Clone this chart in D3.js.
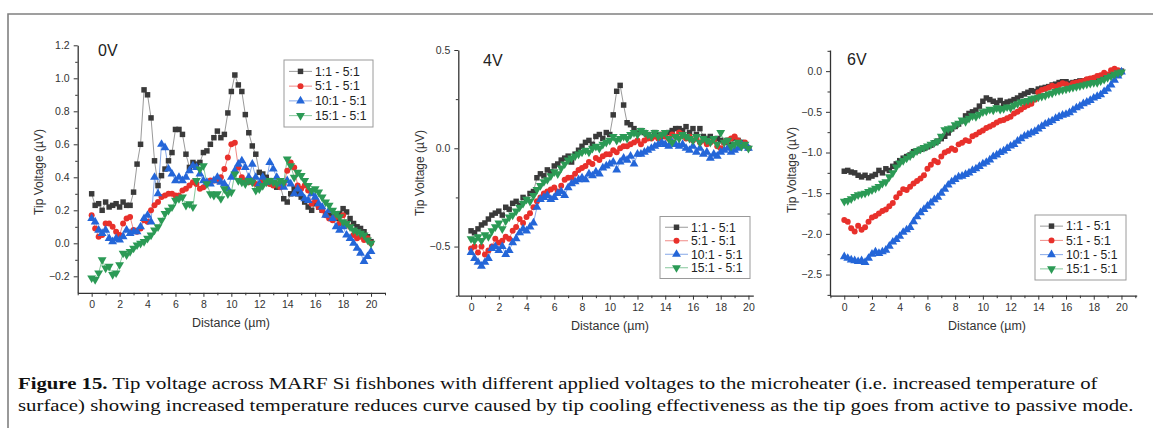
<!DOCTYPE html>
<html><head><meta charset="utf-8">
<script src="https://cdn.jsdelivr.net/npm/d3@7"></script>
<style>body{margin:0;background:#fff}svg{display:block}</style>
</head><body>
<svg id="c" width="1153" height="428"></svg>
<script>
// ---------- DATA ----------
const distance = [0,0.25,0.5,0.75,1,1.25,1.5,1.75,2,2.25,2.5,2.75,3,3.25,3.5,3.75,4,4.25,4.5,4.75,5,5.25,5.5,5.75,6,6.25,6.5,6.75,7,7.25,7.5,7.75,8,8.25,8.5,8.75,9,9.25,9.5,9.75,10,10.25,10.5,10.75,11,11.25,11.5,11.75,12,12.25,12.5,12.75,13,13.25,13.5,13.75,14,14.25,14.5,14.75,15,15.25,15.5,15.75,16,16.25,16.5,16.75,17,17.25,17.5,17.75,18,18.25,18.5,18.75,19,19.25,19.5,19.75,20];
const seriesNames = ["1:1 - 5:1","5:1 - 5:1","10:1 - 5:1","15:1 - 5:1"];
const panelTitles = ["0V","4V","6V"];

// 0V
const v0_1 = [0.30,0.23,0.24,0.20,0.25,0.22,0.23,0.24,0.22,0.25,0.23,0.23,0.31,0.48,0.60,0.93,0.90,0.76,0.50,0.35,0.41,0.45,0.50,0.55,0.69,0.69,0.66,0.54,0.46,0.49,0.48,0.49,0.55,0.56,0.60,0.64,0.68,0.64,0.66,0.79,0.92,1.02,0.96,0.92,0.78,0.67,0.59,0.54,0.43,0.42,0.40,0.38,0.36,0.34,0.35,0.27,0.25,0.30,0.33,0.30,0.28,0.25,0.22,0.20,0.24,0.22,0.20,0.18,0.17,0.16,0.15,0.18,0.21,0.19,0.15,0.12,0.10,0.09,0.07,0.04,0.01];
const v0_5 = [0.17,0.09,0.04,0.05,0.12,0.12,0.10,0.07,0.05,0.12,0.15,0.16,0.08,0.07,0.09,0.14,0.13,0.20,0.23,0.25,0.28,0.29,0.30,0.30,0.29,0.29,0.32,0.33,0.35,0.37,0.36,0.33,0.34,0.37,0.38,0.38,0.38,0.40,0.45,0.52,0.60,0.61,0.46,0.40,0.38,0.37,0.38,0.36,0.35,0.38,0.37,0.36,0.35,0.36,0.34,0.36,0.44,0.49,0.46,0.35,0.33,0.35,0.32,0.24,0.26,0.22,0.20,0.17,0.15,0.14,0.16,0.12,0.17,0.12,0.10,0.05,0.03,0.04,0.02,0.03,0.00];
const v0_10 = [0.15,0.13,0.08,0.06,0.08,0.03,0.01,0.03,0.02,0.04,0.08,0.06,0.07,0.07,0.10,0.15,0.17,0.13,0.40,0.30,0.60,0.58,0.45,0.42,0.38,0.40,0.38,0.40,0.44,0.47,0.46,0.42,0.38,0.37,0.36,0.38,0.40,0.37,0.36,0.33,0.40,0.44,0.48,0.50,0.46,0.40,0.48,0.40,0.36,0.40,0.37,0.49,0.45,0.40,0.36,0.34,0.38,0.36,0.30,0.33,0.30,0.27,0.26,0.30,0.28,0.24,0.22,0.17,0.20,0.15,0.10,0.08,0.10,0.05,0.03,0.00,-0.03,-0.06,-0.11,-0.08,-0.05];
const v0_15 = [-0.21,-0.22,-0.18,-0.10,-0.15,-0.14,-0.19,-0.18,-0.13,-0.06,-0.07,-0.05,-0.03,-0.01,0.00,0.01,0.03,0.05,0.08,0.10,0.14,0.18,0.20,0.22,0.26,0.27,0.28,0.23,0.24,0.22,0.38,0.45,0.47,0.36,0.30,0.29,0.30,0.27,0.33,0.30,0.31,0.42,0.38,0.37,0.36,0.38,0.37,0.32,0.33,0.35,0.37,0.38,0.37,0.36,0.38,0.37,0.51,0.47,0.40,0.43,0.41,0.38,0.35,0.32,0.33,0.31,0.28,0.25,0.23,0.20,0.18,0.16,0.13,0.12,0.10,0.08,0.07,0.06,0.05,0.02,0.00];
// 4V
const v4_1 = [-0.42,-0.43,-0.41,-0.39,-0.38,-0.36,-0.34,-0.33,-0.32,-0.34,-0.30,-0.31,-0.28,-0.27,-0.29,-0.25,-0.26,-0.23,-0.22,-0.15,-0.13,-0.14,-0.11,-0.12,-0.09,-0.08,-0.06,-0.05,-0.04,-0.07,-0.03,-0.01,0.01,0.03,0.04,0.02,0.06,0.07,0.05,0.08,0.07,0.17,0.29,0.32,0.22,0.13,0.12,0.10,0.08,0.09,0.08,0.07,0.06,0.08,0.07,0.06,0.07,0.08,0.09,0.10,0.10,0.09,0.11,0.08,0.10,0.07,0.10,0.06,0.05,0.06,0.04,0.05,0.04,0.03,0.04,0.02,0.05,0.04,0.03,0.02,0.00];
const v4_5 = [-0.51,-0.50,-0.53,-0.50,-0.54,-0.52,-0.50,-0.46,-0.48,-0.47,-0.45,-0.46,-0.42,-0.40,-0.36,-0.38,-0.35,-0.33,-0.30,-0.27,-0.25,-0.23,-0.22,-0.21,-0.20,-0.22,-0.19,-0.16,-0.15,-0.15,-0.13,-0.11,-0.10,-0.09,-0.07,-0.08,-0.05,-0.06,-0.04,-0.03,-0.03,-0.01,-0.02,0.00,0.01,0.01,0.02,0.03,0.04,0.02,0.04,0.05,0.05,0.06,0.05,0.07,0.06,0.05,0.07,0.06,0.08,0.07,0.05,0.06,0.04,0.05,0.03,0.04,0.02,0.03,0.04,0.01,0.00,0.03,0.04,0.05,0.06,0.04,0.02,0.03,0.00];
const v4_10 = [-0.53,-0.56,-0.58,-0.60,-0.58,-0.56,-0.51,-0.50,-0.52,-0.50,-0.54,-0.52,-0.48,-0.46,-0.43,-0.41,-0.42,-0.40,-0.38,-0.30,-0.26,-0.25,-0.24,-0.26,-0.25,-0.23,-0.22,-0.24,-0.20,-0.18,-0.17,-0.16,-0.15,-0.16,-0.13,-0.14,-0.12,-0.13,-0.10,-0.09,-0.08,-0.07,-0.11,-0.07,-0.05,-0.06,-0.04,-0.08,-0.03,-0.03,-0.02,-0.01,0.00,0.01,0.02,0.03,0.02,0.01,0.03,0.02,0.01,0.02,0.00,-0.01,0.01,-0.02,0.00,-0.03,-0.02,-0.05,-0.03,-0.04,-0.02,-0.01,0.00,-0.02,-0.01,0.00,0.02,0.01,0.00];
const v4_15 = [-0.46,-0.47,-0.45,-0.47,-0.44,-0.45,-0.42,-0.40,-0.38,-0.41,-0.37,-0.35,-0.34,-0.32,-0.30,-0.28,-0.26,-0.27,-0.24,-0.21,-0.19,-0.17,-0.16,-0.14,-0.12,-0.13,-0.10,-0.08,-0.06,-0.05,-0.04,-0.03,-0.02,-0.01,-0.02,0.00,0.01,0.00,0.02,0.03,0.04,0.06,0.04,0.05,0.06,0.05,0.07,0.08,0.07,0.09,0.08,0.07,0.06,0.08,0.06,0.07,0.08,0.05,0.03,0.06,0.05,0.07,0.06,0.05,0.04,0.06,0.03,0.05,0.04,0.03,0.05,0.02,0.08,0.03,0.04,0.01,0.02,0.03,0.01,0.02,0.00];
// 6V
const v6_1 = [-1.23,-1.22,-1.24,-1.25,-1.28,-1.30,-1.28,-1.31,-1.29,-1.27,-1.22,-1.25,-1.20,-1.22,-1.17,-1.14,-1.10,-1.07,-1.05,-1.03,-0.99,-0.98,-0.96,-0.95,-0.93,-0.91,-0.88,-0.86,-0.83,-0.80,-0.76,-0.71,-0.68,-0.65,-0.61,-0.55,-0.52,-0.50,-0.48,-0.43,-0.37,-0.33,-0.35,-0.37,-0.39,-0.36,-0.40,-0.38,-0.37,-0.35,-0.33,-0.30,-0.28,-0.26,-0.24,-0.25,-0.22,-0.21,-0.20,-0.19,-0.17,-0.16,-0.14,-0.13,-0.13,-0.15,-0.14,-0.13,-0.12,-0.12,-0.11,-0.10,-0.10,-0.09,-0.08,-0.07,-0.06,-0.05,-0.04,-0.02,0.00];
const v6_5 = [-1.83,-1.85,-1.93,-1.97,-1.90,-1.95,-1.92,-1.85,-1.80,-1.78,-1.75,-1.72,-1.70,-1.66,-1.62,-1.55,-1.50,-1.45,-1.46,-1.42,-1.38,-1.35,-1.32,-1.28,-1.20,-1.15,-1.10,-1.12,-1.05,-1.00,-0.98,-0.95,-0.97,-0.90,-0.88,-0.85,-0.86,-0.80,-0.78,-0.75,-0.73,-0.70,-0.68,-0.66,-0.63,-0.61,-0.60,-0.58,-0.56,-0.52,-0.50,-0.47,-0.44,-0.42,-0.40,-0.35,-0.26,-0.23,-0.22,-0.20,-0.18,-0.19,-0.17,-0.15,-0.16,-0.18,-0.15,-0.14,-0.13,-0.12,-0.10,-0.09,-0.08,-0.06,-0.05,-0.02,-0.04,0.01,0.03,0.01,-0.01];
const v6_10 = [-2.28,-2.30,-2.32,-2.33,-2.34,-2.33,-2.35,-2.30,-2.25,-2.22,-2.24,-2.22,-2.20,-2.15,-2.10,-2.07,-2.03,-1.98,-1.95,-1.92,-1.85,-1.79,-1.74,-1.70,-1.66,-1.62,-1.58,-1.55,-1.50,-1.45,-1.40,-1.36,-1.33,-1.30,-1.29,-1.27,-1.25,-1.22,-1.20,-1.17,-1.14,-1.12,-1.09,-1.05,-1.03,-1.00,-0.98,-0.95,-0.92,-0.90,-0.86,-0.83,-0.80,-0.78,-0.76,-0.74,-0.71,-0.68,-0.65,-0.63,-0.61,-0.58,-0.56,-0.54,-0.53,-0.51,-0.48,-0.45,-0.43,-0.40,-0.38,-0.36,-0.33,-0.31,-0.29,-0.25,-0.22,-0.17,-0.11,-0.06,-0.01];
const v6_15 = [-1.60,-1.59,-1.57,-1.54,-1.52,-1.51,-1.50,-1.48,-1.46,-1.44,-1.42,-1.38,-1.36,-1.30,-1.25,-1.18,-1.13,-1.10,-1.07,-1.04,-1.01,-0.98,-0.96,-0.94,-0.92,-0.90,-0.88,-0.86,-0.80,-0.72,-0.71,-0.70,-0.66,-0.64,-0.60,-0.62,-0.58,-0.55,-0.56,-0.53,-0.50,-0.49,-0.47,-0.48,-0.45,-0.47,-0.46,-0.44,-0.45,-0.42,-0.40,-0.38,-0.37,-0.36,-0.34,-0.33,-0.32,-0.31,-0.30,-0.28,-0.27,-0.25,-0.24,-0.23,-0.22,-0.21,-0.20,-0.19,-0.18,-0.17,-0.16,-0.15,-0.14,-0.14,-0.12,-0.10,-0.08,-0.06,-0.04,-0.02,-0.01];

const xTicks = [0,2,4,6,8,10,12,14,16,18,20];
const yTicks0 = [-0.2,0,0.2,0.4,0.6,0.8,1.0,1.2];
const yTicks4 = [-0.5,0,0.5];
const yTicks6 = [-2.5,-2.0,-1.5,-1.0,-0.5,0];
const xLabel = "Distance (µm)";
const yLabel = "Tip Voltage (µV)";
const captionBold = "Figure 15.";
const captionLine1 = " Tip voltage across MARF Si fishbones with different applied voltages to the microheater (i.e. increased temperature of";
const captionLine2 = "surface) showing increased temperature reduces curve caused by tip cooling effectiveness as the tip goes from active to passive mode.";

// ---------- STYLE / LAYOUT ----------
const colors = ["#3a3a3a","#e8302b","#2466d8","#2b9a55"];
const lineColors = ["#9a9a9a","#f08a86","#86a8e8","#86c79c"];
const shapes = [d3.symbolSquare, d3.symbolCircle, d3.symbolTriangle, d3.symbolTriangle];
const rot = [0,0,0,180];
const sizes = [30,28,34,34];

const panels = [
  {series:[v0_1,v0_5,v0_10,v0_15], yTicks:yTicks0, yMinorStep:0.1, yDom:[-0.3,1.2], xDom:[-1,21],
   left:77.7, right:385, top:45.3, bottom:292.8, fmt:d3.format(".1f"),
   title:[98,56], ylab:[43,172], xlab:[231,327], legend:{x:284,y:60,w:89,h:67}},
  {series:[v4_1,v4_5,v4_10,v4_15], yTicks:yTicks4, yMinorStep:0.25, yDom:[-0.75,0.5], xDom:[-0.92,20.35],
   left:458.3, right:753.3, top:50, bottom:295.7, fmt:d3.format(".1f"),
   title:[483,66], ylab:[424,173], xlab:[610,330], legend:{x:660,y:216.5,w:90,h:62}},
  {series:[v6_1,v6_5,v6_10,v6_15], yTicks:yTicks6, yMinorStep:0.25, yDom:[-2.76,0.26], xDom:[-1.03,21.1],
   left:830, right:1136.7, top:50, bottom:295.7, fmt:d3.format(".1f"),
   title:[847,65], ylab:[796,170], xlab:[987,330], legend:{x:1035,y:215,w:91,h:65}}
];

const svg = d3.select("#c");
// frame
svg.append("path").attr("d","M8,428 V14 H1153").attr("fill","none").attr("stroke","#808080").attr("stroke-width",1.6);

const axisColor = "#333";
const font = "'Liberation Sans', Arial, sans-serif";

panels.forEach((p,pi)=>{
  const x = d3.scaleLinear().domain(p.xDom).range([p.left,p.right]);
  const y = d3.scaleLinear().domain(p.yDom).range([p.bottom,p.top]);
  const g = svg.append("g");

  const xMinor = d3.range(Math.ceil(p.xDom[0]), Math.floor(p.xDom[1])+1, 1).filter(v=>v%2!==0);
  const xAxisMinor = d3.axisBottom(x).tickValues(xMinor).tickSize(2.5).tickFormat("");
  const yMinorVals = [];
  for(let v=Math.ceil(p.yDom[0]/p.yMinorStep)*p.yMinorStep; v<=p.yDom[1]+1e-9; v+=p.yMinorStep){
    if(!p.yTicks.some(t=>Math.abs(t-v)<1e-6)) yMinorVals.push(v);
  }
  const yAxisMinor = d3.axisLeft(y).tickValues(yMinorVals).tickSize(2.5).tickFormat("");

  g.append("g").attr("transform",`translate(0,${p.bottom})`)
    .call(d3.axisBottom(x).tickValues(xTicks).tickSize(4).tickSizeOuter(0).tickPadding(4).tickFormat(d3.format("d")));
  g.append("g").attr("transform",`translate(0,${p.bottom})`).call(xAxisMinor).select(".domain").remove();
  g.append("g").attr("transform",`translate(${p.left},0)`)
    .call(d3.axisLeft(y).tickValues(p.yTicks).tickSize(4).tickSizeOuter(0).tickPadding(4).tickFormat(p.fmt));
  g.append("g").attr("transform",`translate(${p.left},0)`).call(yAxisMinor).select(".domain").remove();
  g.selectAll(".domain").attr("stroke",axisColor).attr("stroke-width",1.3);
  g.selectAll(".tick line").attr("stroke",axisColor).attr("stroke-width",1);
  g.selectAll(".tick text").attr("fill","#333").style("font-family",font).style("font-size","10.5px");

  p.series.forEach((vals,si)=>{
    const pts = distance.map((d,i)=>[d,vals[i]]);
    g.append("path").datum(pts)
      .attr("d",d3.line().x(d=>x(d[0])).y(d=>y(d[1])))
      .attr("fill","none").attr("stroke",lineColors[si]).attr("stroke-width",1);
  });
  p.series.forEach((vals,si)=>{
    const sym = d3.symbol().type(shapes[si]).size(sizes[si]);
    g.append("g").selectAll("path").data(distance.map((d,i)=>[d,vals[i]])).join("path")
      .attr("d",sym)
      .attr("transform",d=>`translate(${x(d[0])},${y(d[1])}) rotate(${rot[si]})`)
      .attr("fill",colors[si]);
  });

  g.append("text").attr("x",p.title[0]).attr("y",p.title[1]).text(panelTitles[pi])
    .style("font-family",font).style("font-size","16px").attr("fill","#222");
  g.append("text").attr("transform",`translate(${p.ylab[0]},${p.ylab[1]}) rotate(-90)`)
    .attr("text-anchor","middle").text(yLabel)
    .style("font-family",font).style("font-size","12px").attr("fill","#333");
  g.append("text").attr("x",p.xlab[0]).attr("y",p.xlab[1]).attr("text-anchor","middle").text(xLabel)
    .style("font-family",font).style("font-size","12.5px").attr("fill","#333");

  const L = p.legend;
  const lg = g.append("g");
  lg.append("rect").attr("x",L.x).attr("y",L.y).attr("width",L.w).attr("height",L.h)
    .attr("fill","#fff").attr("stroke","#9a9a9a").attr("stroke-width",1);
  const step = (L.h-8)/4;
  seriesNames.forEach((nm,si)=>{
    const cy = L.y + 4 + step*(si+0.5);
    lg.append("line").attr("x1",L.x+5).attr("x2",L.x+28).attr("y1",cy).attr("y2",cy)
      .attr("stroke",lineColors[si]).attr("stroke-width",1);
    lg.append("path").attr("d",d3.symbol().type(shapes[si]).size(sizes[si])())
      .attr("transform",`translate(${L.x+16.5},${cy}) rotate(${rot[si]})`).attr("fill",colors[si]);
    lg.append("text").attr("x",L.x+31).attr("y",cy).attr("dy","0.35em").text(nm)
      .style("font-family",font).style("font-size","12.2px").attr("fill","#222");
  });
});

// caption
const serif = "'Liberation Serif', 'DejaVu Serif', serif";
const c1 = svg.append("text").attr("x",18).attr("y",389).style("font-family",serif).style("font-size","17.5px").attr("fill","#111");
c1.append("tspan").attr("font-weight","bold").text(captionBold);
c1.append("tspan").text(captionLine1);
const c2 = svg.append("text").attr("x",18).attr("y",411).style("font-family",serif).style("font-size","17.5px").attr("fill","#111").text(captionLine2);
function fit(t, w){
  const len = t.node().getComputedTextLength();
  t.attr("transform",`translate(18,0) scale(${w/len},1) translate(-18,0)`);
}
fit(c1, 1080);
fit(c2, 1116);
</script>
</body></html>
